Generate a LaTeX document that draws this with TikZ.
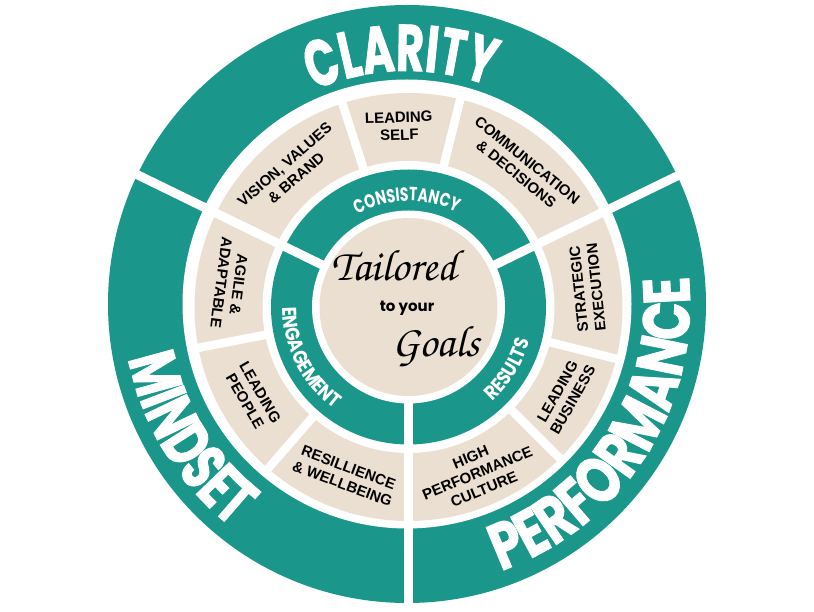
\documentclass[tikz,border=0pt]{standalone}
\usepackage[T1]{fontenc}
\usepackage{fontspec}
\setmainfont{Liberation Sans}
\newfontfamily\clarfont{Poppins}[FakeStretch=0.65, BoldFeatures={FakeBold=1.2}]
\newfontfamily\mindfont{Poppins}[FakeStretch=0.69, BoldFeatures={FakeBold=1.2}]
\newfontfamily\perffont{Poppins}[FakeStretch=0.76, BoldFeatures={FakeBold=1.2}]
\newfontfamily\ringfont{Poppins}[FakeStretch=0.74]
\newfontfamily\ringwidefont{Poppins}[FakeStretch=0.86]
\newfontfamily\popfont{Poppins}
\usetikzlibrary{decorations.text}
\definecolor{wteal}{RGB}{26,151,138}
\definecolor{wbeige}{RGB}{234,223,208}
\tikzset{
  seglabel/.style={font=\bfseries\fontsize{15}{17.5}\selectfont, align=center, inner sep=0pt, text=black},
  gapline/.style={white, line width=9pt},
  seggap/.style={white, line width=8.5pt},
  scriptfont/.style={font=\usefont{T1}{pzc}{mb}{it}\fontsize{44}{44}\selectfont, inner sep=0pt, text=black},
}
\begin{document}
\begin{tikzpicture}[x=1pt,y=1pt]
\useasboundingbox (0,0) rectangle (814,611);
\coordinate (O1) at (407,307);
\coordinate (O2) at (408.5,304);
% rings
\fill[wteal] (O1) circle[radius=299];
\fill[white] (O1) circle[radius=224.5];
\fill[wbeige] (O2) circle[radius=214];
\fill[white] (O2) circle[radius=146];
\fill[wteal] (O2) circle[radius=137.5];
\fill[white] (O2) circle[radius=96.5];
\fill[wbeige] (O2) circle[radius=89];
% dividers
\foreach \a in {26,154,270} \draw[gapline] (O2) ++(\a:92) -- ++(\a:215);
\foreach \a in {76,108,-14,-45,191,229} \draw[seggap] (O2) ++(\a:141) -- ++(\a:78);
% outer words
\path[decorate, decoration={text along path, text align=center,
  text={|\color{white}\clarfont\bfseries\fontsize{66}{66}\selectfont|CLARITY}}]
  (O1) ++(131.5:233) arc[start angle=131.5, end angle=51.5, radius=233];
\path[decorate, decoration={text along path, text align=center,
  text={|\color{white}\mindfont\bfseries\fontsize{66}{66}\selectfont|MINDSET}}]
  (O1) ++(171.5:284) arc[start angle=171.5, end angle=251.5, radius=284];
\path[decorate, decoration={text along path, text align=center,
  text={|\color{white}\perffont\bfseries\fontsize{66}{66}\selectfont|PERFORMANCE}}]
  (O1) ++(-82.5:283) arc[start angle=-82.5, end angle=17.5, radius=283];
% ring words
\path[decorate, decoration={text along path, text align=center,
  text={|\color{white}\ringfont\bfseries\fontsize{19}{19}\selectfont|CONSISTANCY}}]
  (O2) ++(141:106) arc[start angle=141, end angle=41, radius=106];
\path[decorate, decoration={text along path, text align=center,
  text={|\color{white}\ringwidefont\bfseries\fontsize{20}{20}\selectfont|ENGAGEMENT}}]
  (O2) ++(157:126) arc[start angle=157, end angle=257, radius=126];
\path[decorate, decoration={text along path, text align=center,
  text={|\color{white}\ringwidefont\bfseries\fontsize{20}{20}\selectfont|RESULTS}}]
  (O2) ++(-82:126) arc[start angle=-82, end angle=18, radius=126];
% segment labels
\path (O2) ++(93:181) node[seglabel, rotate=2] (lself) {LEADING\\SELF};
\path (O2) ++(131:180) node[seglabel, rotate=41] (vision) {VISION, VALUES\\\& BRAND};
\path (O2) ++(51:180) node[seglabel, rotate=-39] (comm) {COMMUNICATION\\\& DECISIONS};
\path (O2) ++(6:180) node[seglabel, rotate=96] (strat) {STRATEGIC\\EXECUTION};
\path (O2) ++(-29.5:180) node[seglabel, rotate=60.5] (lbus) {LEADING\\BUSINESS};
\path (O2) ++(-67.5:180) node[seglabel, rotate=22.5] (hpc) {HIGH\\PERFORMANCE\\CULTURE};
\path (O2) ++(249.5:180) node[seglabel, rotate=-20.5] (res) {RESILLIENCE\\\& WELLBEING};
\path (O2) ++(210:180) node[seglabel, rotate=-60] (lpeople) {LEADING\\PEOPLE};
\path (O2) ++(172.5:180) node[seglabel, rotate=-97.5] (agile) {AGILE \&\\ADAPTABLE};
% centre
\node[scriptfont] (tailored) at (394,346) {Tailored};
\node[font=\popfont\bfseries\fontsize{15}{15}\selectfont, inner sep=0pt] (toyour) at (407,303) {to your};
\node[scriptfont] (goals) at (436,265) {Goals};
\end{tikzpicture}
\end{document}
